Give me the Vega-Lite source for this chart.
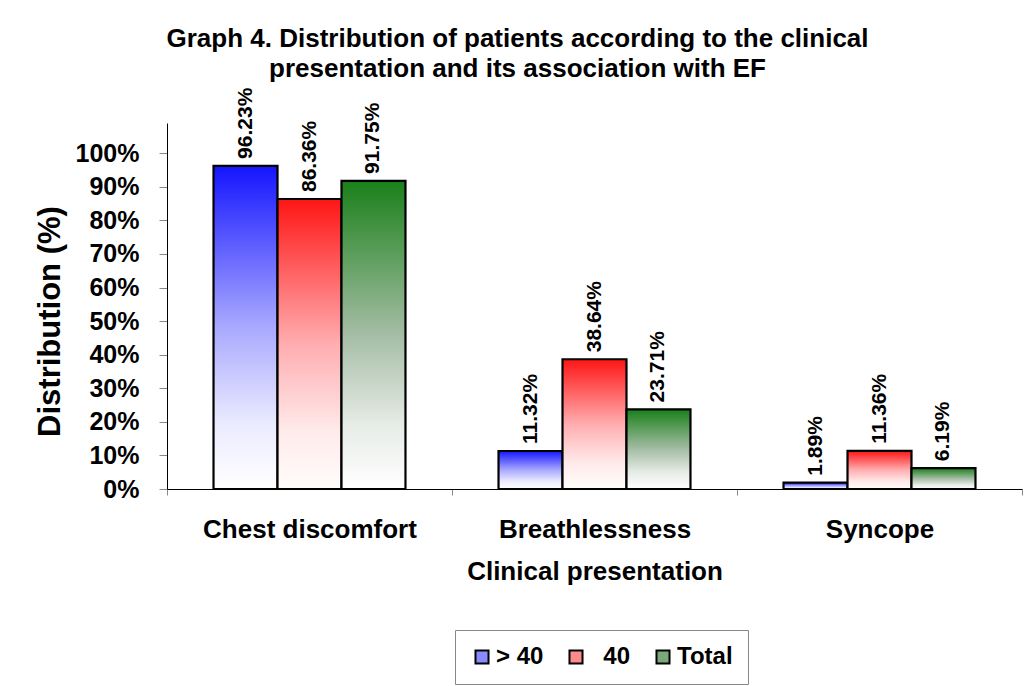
{
  "$schema": "https://vega.github.io/schema/vega-lite/v6.json",
  "width": 855,
  "height": 366,
  "autosize": {"type": "none"},
  "padding": {"left": 167, "top": 123, "right": 12, "bottom": 197},
  "background": "white",
  "config": {
    "font": "Liberation Sans",
    "view": {"stroke": null},
    "axis": {"labelFont": "Liberation Sans", "titleFont": "Liberation Sans", "labelFontWeight": "bold", "titleFontWeight": "bold", "labelColor": "black", "titleColor": "black", "grid": false, "domainColor": "black", "tickColor": "#888888", "labelLimit": 400}
  },
  "title": {
    "text": ["Graph 4. Distribution of patients according to the clinical", "presentation and its association with EF"],
    "anchor": "middle",
    "frame": "group",
    "dx": -77,
    "offset": 6,
    "fontSize": 26,
    "fontWeight": "bold",
    "font": "Liberation Sans",
    "lineHeight": 30,
    "color": "black"
  },
  "data": {
    "values": [
      {"presentation": "Chest discomfort", "group": "> 40", "value": 0.9623},
      {"presentation": "Chest discomfort", "group": "40", "value": 0.8636},
      {"presentation": "Chest discomfort", "group": "Total", "value": 0.9175},
      {"presentation": "Breathlessness", "group": "> 40", "value": 0.1132},
      {"presentation": "Breathlessness", "group": "40", "value": 0.3864},
      {"presentation": "Breathlessness", "group": "Total", "value": 0.2371},
      {"presentation": "Syncope", "group": "> 40", "value": 0.0189},
      {"presentation": "Syncope", "group": "40", "value": 0.1136},
      {"presentation": "Syncope", "group": "Total", "value": 0.0619}
    ]
  },
  "encoding": {
    "x": {
      "field": "presentation",
      "type": "nominal",
      "sort": ["Chest discomfort", "Breathlessness", "Syncope"],
      "scale": {"paddingInner": 0, "paddingOuter": 0},
      "axis": {"title": "Clinical presentation", "labelAngle": 0, "labelFontSize": 26, "titleFontSize": 26, "labelPadding": 21, "titlePadding": 16, "tickBand": "extent", "tickSize": 6, "domainWidth": 1}
    },
    "xOffset": {"field": "group", "type": "nominal", "scale": {"domain": ["> 40", "40", "Total"], "paddingInner": 0, "paddingOuter": 0.727}},
    "y": {
      "field": "value",
      "type": "quantitative",
      "scale": {"domain": [0, 1.09], "nice": false},
      "axis": {"title": "Distribution (%)", "format": ".0%", "values": [0, 0.1, 0.2, 0.3, 0.4, 0.5, 0.6, 0.7, 0.8, 0.9, 1.0], "labelFontSize": 25, "titleFontSize": 31, "tickSize": 8, "labelPadding": 20, "titleX": -117, "titleY": 198, "titleBaseline": "middle", "titleAlign": "center", "titleAngle": 270}
    }
  },
  "layer": [
    {
      "mark": {"type": "bar", "opacity": 0, "stroke": "black"},
      "encoding": {
        "fill": {
          "field": "group",
          "type": "nominal",
          "scale": {"domain": ["> 40", "40", "Total"], "range": ["#8a8aff", "#ff8a8a", "#7aa87a"]},
          "legend": {
            "title": null,
            "orient": "none",
            "legendX": 288,
            "legendY": 507,
            "direction": "horizontal",
            "padding": 15,
            "strokeColor": "#888888",
            "labelFontSize": 24,
            "labelFontWeight": "bold",
            "labelColor": "black",
            "labelFont": "Liberation Sans",
            "symbolType": "square",
            "symbolSize": 170,
            "symbolOpacity": 1,
            "symbolStrokeColor": "black",
            "symbolStrokeWidth": 2,
            "columnPadding": 20,
            "labelOffset": 2,
            "labelExpr": "datum.label == '40' ? '\u200b\u00a0\u00a040' : datum.label"
          }
        }
      }
    },
    {
      "transform": [{"filter": "datum.group == '> 40'"}],
      "mark": {"type": "bar", "stroke": "black", "strokeWidth": 2.2, "fill": {"gradient": "linear", "x1": 0, "y1": 0, "x2": 0, "y2": 1, "stops": [{"offset": 0, "color": "#1515ff"}, {"offset": 0.5, "color": "#a9a9ff"}, {"offset": 0.8, "color": "#ebebff"}, {"offset": 1, "color": "#ffffff"}]}}
    },
    {
      "transform": [{"filter": "datum.group == '40'"}],
      "mark": {"type": "bar", "stroke": "black", "strokeWidth": 2.2, "fill": {"gradient": "linear", "x1": 0, "y1": 0, "x2": 0, "y2": 1, "stops": [{"offset": 0, "color": "#ff1515"}, {"offset": 0.5, "color": "#ffadb0"}, {"offset": 0.8, "color": "#ffeaea"}, {"offset": 1, "color": "#fffdfb"}]}}
    },
    {
      "transform": [{"filter": "datum.group == 'Total'"}],
      "mark": {"type": "bar", "stroke": "black", "strokeWidth": 2.2, "fill": {"gradient": "linear", "x1": 0, "y1": 0, "x2": 0, "y2": 1, "stops": [{"offset": 0, "color": "#1a801a"}, {"offset": 0.5, "color": "#a5bda5"}, {"offset": 0.8, "color": "#e8ede8"}, {"offset": 1, "color": "#ffffff"}]}}
    },
    {
      "mark": {"type": "text", "angle": 270, "align": "left", "baseline": "middle", "dx": 7, "fontSize": 21, "fontWeight": "bold", "font": "Liberation Sans", "color": "black"},
      "encoding": {
        "text": {"field": "value", "type": "quantitative", "format": ".2%"}
      }
    }
  ]
}
